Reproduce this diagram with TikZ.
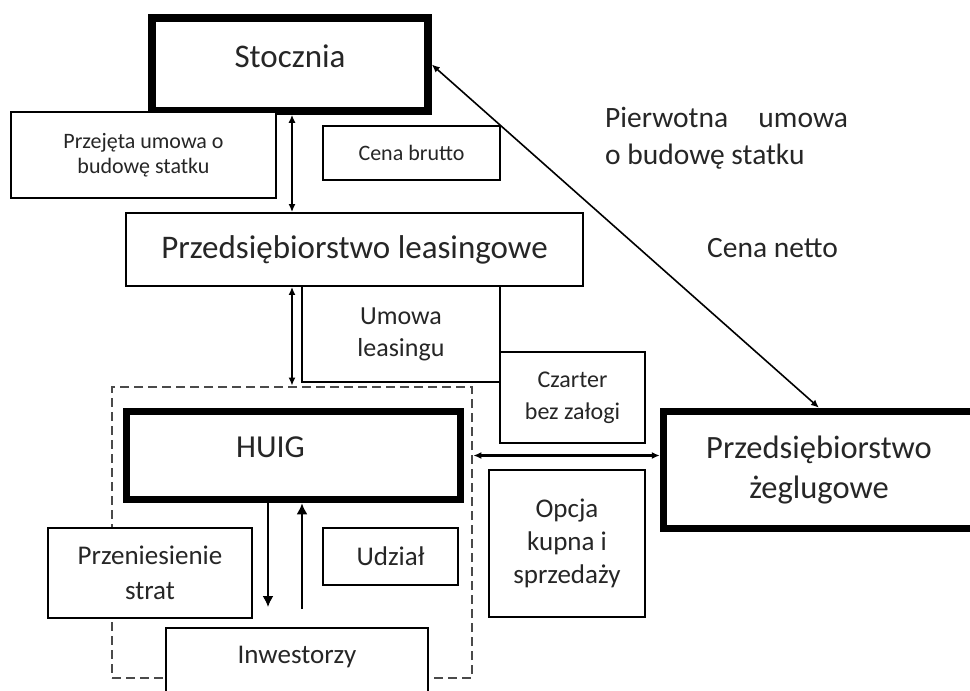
\documentclass[tikz,border=0pt]{standalone}
\usepackage{fontspec}
\setmainfont{Carlito}
\usetikzlibrary{arrows.meta,calc}

\definecolor{ink}{HTML}{262626}
\definecolor{dashgray}{HTML}{4A4A4A}

\tikzset{
  box/.style={draw=black, line width=1.8pt, fill=white, inner sep=0pt, align=center, text=ink},
  heavybox/.style={box, line width=7.5pt},
  groupbox/.style={draw=dashgray, line width=2.8pt, dash pattern=on 9pt off 5pt, inner sep=0pt},
  link/.style={line width=1.6pt, {Latex[length=8pt,width=7pt]}-{Latex[length=8pt,width=7pt]}},
  flow/.style={line width=2.5pt, -{Latex[length=11pt,width=11pt]}},
  note/.style={inner sep=0pt, text=ink, align=left},
}

\begin{document}
\begin{tikzpicture}[x=1pt,y=-1pt]
\useasboundingbox (0,0) rectangle (970,691);
\clip (0,0) rectangle (970,691);

% dashed frame round HUIG:
\node[groupbox, minimum width=360pt, minimum height=291pt] (group) at (292,532.5) {};

% boxes:
\node[heavybox, minimum width=276pt, minimum height=93pt, font=\fontsize{33}{40}\selectfont,
  text height=22pt, text depth=16pt] (stocznia) at (290,64.5) {Stocznia};
\node[box, minimum width=265pt, minimum height=86pt, font=\fontsize{22}{25}\selectfont] (przejeta) at (143.5,155) {Przejęta umowa o\\budowę statku};
\node[box, minimum width=177pt, minimum height=54pt, font=\fontsize{22}{25}\selectfont] (brutto) at (411.5,153) {Cena brutto};
\node[box, minimum width=457pt, minimum height=73pt, font=\fontsize{33}{40}\selectfont] (leasing) at (354.5,249.5) {Przedsiębiorstwo leasingowe};
\node[box, minimum width=198pt, minimum height=96pt, font=\fontsize{26}{32}\selectfont] (umowa) at (401,334) {Umowa\\leasingu};
\node[box, minimum width=145pt, minimum height=91pt, font=\fontsize{24}{32}\selectfont] (czarter) at (572.5,397.5) {Czarter\\bez załogi};
\node[heavybox, minimum width=334pt, minimum height=88pt,
  label={[name=huigtext, font=\fontsize{32}{38}\selectfont, text=ink, xshift=-23pt, yshift=8pt]center:HUIG}] (huig) at (293.5,455.5) {};
\node[heavybox, minimum width=311pt, minimum height=117pt, font=\fontsize{32.5}{40}\selectfont] (zeglugowe) at (819,470) {Przedsiębiorstwo\\żeglugowe};
\node[box, minimum width=156pt, minimum height=147pt, font=\fontsize{27}{33}\selectfont] (opcja) at (567,543.5) {Opcja\\kupna i\\sprzedaży};
\node[box, minimum width=204pt, minimum height=90pt, font=\fontsize{27}{35}\selectfont] (strat) at (150,573) {Przeniesienie\\strat};
\node[box, minimum width=135pt, minimum height=57pt, font=\fontsize{27}{33}\selectfont] (udzial) at (390.5,556.5) {Udział};
\node[box, minimum width=262pt, minimum height=82pt, font=\fontsize{27}{33}\selectfont,
  text height=18pt, text depth=30pt] (inwest) at (297,669) {Inwestorzy};

% free texts:
\node[note, anchor=north west, font=\fontsize{29.5}{37}\selectfont] (pierwotna) at (605,107) {Pierwotna\hspace{0.8em} umowa\\o budowę statku};
\node[note, anchor=base west, font=\fontsize{29.5}{36}\selectfont] (netto) at (707,257) {Cena netto};

% connectors:
\draw[link] (stocznia.south -| group.north) -- (leasing.north -| group.north);
\draw[link] (leasing.south -| group.north) -- (group.north);
\draw[link] (stocznia.east) -- (zeglugowe.north);
\draw[link, line width=3pt] (group.east |- huig.east) -- (zeglugowe.west |- huig.east);
\coordinate (lossend) at ([xshift=-29pt,yshift=20pt]inwest.north);
\coordinate (sharestart) at ([xshift=5pt,yshift=18pt]inwest.north);
\draw[flow] (huig.south -| lossend) -- (lossend);
\draw[flow] (sharestart) -- (huig.south -| sharestart);

\end{tikzpicture}
\end{document}
